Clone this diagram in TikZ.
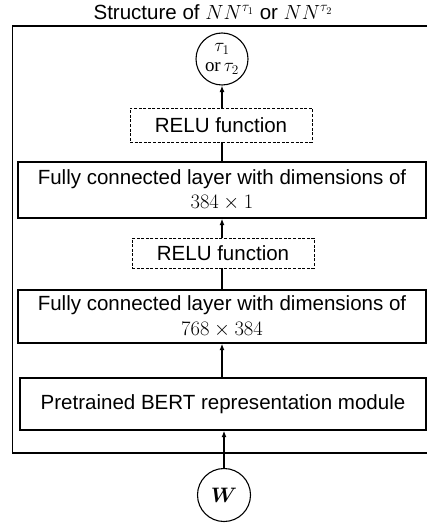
\documentclass[tikz,border=0pt]{standalone}
\usepackage{fix-cm}
\usepackage{fontspec}
\setmainfont{Liberation Sans}
\newfontfamily\serifrm{Liberation Serif}
\usepackage{bm}
\usetikzlibrary{arrows.meta}
\begin{document}
\begin{tikzpicture}[x=1bp,y=-1bp,
  txt/.style={font=\fontsize{20.6}{24.5}\selectfont},
  layerbox/.style={draw,line width=1.3bp,txt,align=center,inner sep=0pt},
  relubox/.style={draw,line width=0.8bp,dash pattern=on 3bp off 1.6bp,txt,inner sep=0pt},
  io/.style={draw,circle,line width=1.1bp,minimum size=52bp,inner sep=0pt},
  flow/.style={line width=1.3bp,-{Latex[length=6.5bp,width=5bp]}},
  link/.style={line width=1.3bp}]
\useasboundingbox (0,0) rectangle (427,525);

% title
\node[txt] (title) at (213,12) {Structure of $NN^{\tau_1}$ or $NN^{\tau_2}$};

% outer frame, open towards the right edge
\draw[line width=1.6bp] (427,26) -- (12.5,26) -- (12.5,453) -- (427,453);

% output node
\node[io,inner sep=-5bp,align=center,font=\fontsize{19}{20.5}\selectfont] (tau) at (222,59)
  {$\tau_1$\\{\serifrm or}\,$\tau_2$};

% layers, from top to bottom
\node[relubox,minimum width=182bp,minimum height=34bp] (relu1) at (221,125) {RELU function};
\node[layerbox,minimum width=408bp,minimum height=56bp] (fc1) at (222,190)
  {Fully connected layer with dimensions of\\$384\times 1$};
\node[relubox,minimum width=182bp,minimum height=30bp] (relu2) at (223,253) {RELU function};
\node[layerbox,minimum width=408bp,minimum height=53bp] (fc2) at (222,316.5)
  {Fully connected layer with dimensions of\\$768\times 384$};
\node[layerbox,minimum width=406bp,minimum height=52bp] (bert) at (223,404)
  {Pretrained BERT representation module};

% input node
\node[io,minimum size=53bp] (w) at (224,495) {\fontsize{21}{24}\selectfont$\bm{W}$};

% connectors
\draw[flow] (relu1.north -| tau.south) -- (tau.south);
\draw[link] (fc1.north -| tau.south) -- (relu1.south -| tau.south);
\draw[flow] (relu2.north -| tau.south) -- (fc1.south -| tau.south);
\draw[link] (fc2.north -| tau.south) -- (relu2.south -| tau.south);
\draw[flow] (bert.north -| tau.south) -- (fc2.south -| tau.south);
\draw[flow] (w.north) -- (bert.south -| w.north);
\end{tikzpicture}
\end{document}
